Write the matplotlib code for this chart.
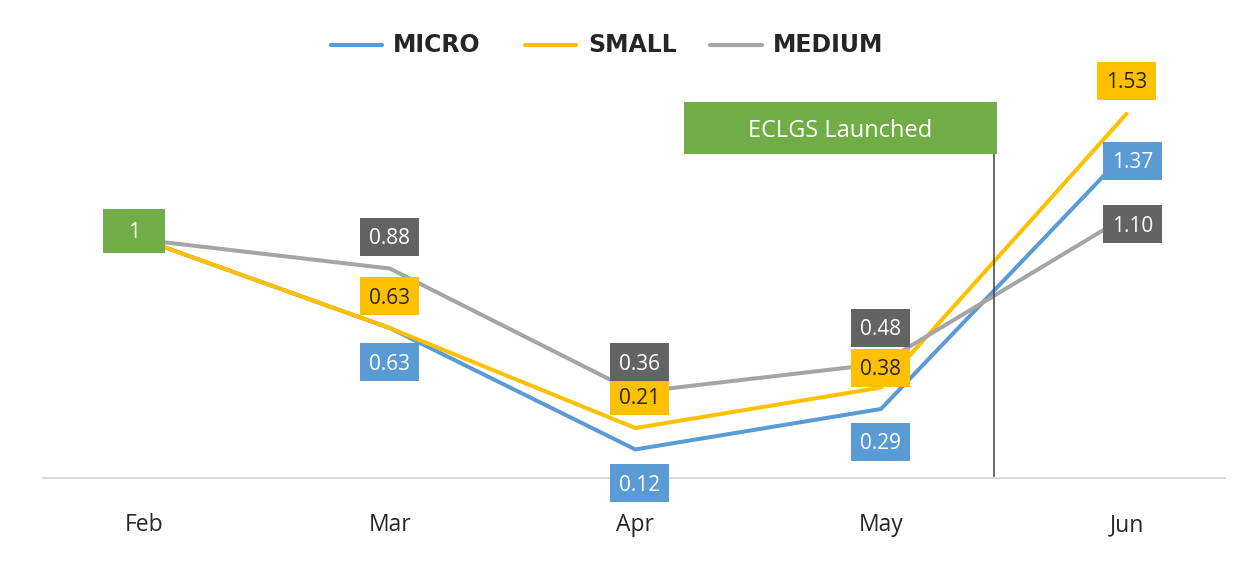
import matplotlib
matplotlib.use("Agg")
import matplotlib.pyplot as plt
from matplotlib.patches import Rectangle
from matplotlib.lines import Line2D

# --- DATA ---
months = ["Feb", "Mar", "Apr", "May", "Jun"]
micro = [1, 0.63, 0.12, 0.29, 1.37]
small = [1, 0.63, 0.21, 0.38, 1.53]
medium = [1, 0.88, 0.36, 0.48, 1.10]
event_label = "ECLGS Launched"
event_pos = 3.46   # between May and Jun

# --- STYLE ---
BLUE = "#5B9BD5"
YELLOW = "#FFC000"
GRAY = "#A5A5A5"
DARK = "#636363"
GREEN = "#70AD47"
TXT = "#262626"
LABEL_FONT = ["Open Sans", "DejaVu Sans"]

W, H = 1255, 568
XLIM = (-0.587, 4.523)
YLIM = (-0.378, 2.008)
PXX = W / (XLIM[1] - XLIM[0])   # pixels per category
PXY = H / (YLIM[1] - YLIM[0])   # pixels per unit

# label offsets in pixels (dx, dy), dy positive = down
series = [
    ("MICRO", micro, BLUE, "white", BLUE,
     [None, (0, 34), (4, 34), (0, 33), (6, 9)]),
    ("SMALL", small, YELLOW, TXT, YELLOW,
     [None, (0, -32), (4, -32), (0, -20), (0, -33)]),
    ("MEDIUM", medium, GRAY, "white", DARK,
     [None, (0, -32), (4, -30), (0, -36), (6, 8)]),
]

fig = plt.figure(figsize=(W / 100, H / 100), dpi=100)
ax = fig.add_axes([0, 0, 1, 1])
ax.set_xlim(*XLIM)
ax.set_ylim(*YLIM)
ax.axis("off")

x = list(range(len(months)))

# baseline
ax.plot([(43 / W) * (XLIM[1] - XLIM[0]) + XLIM[0], (1225 / W) * (XLIM[1] - XLIM[0]) + XLIM[0]],
        [0, 0], color="#D9D9D9", lw=1.4, zorder=1)

for name, vals, col, tcol, bcol, offs in series:
    ax.plot(x, vals, color=col, lw=2.9, solid_capstyle="round", solid_joinstyle="miter", zorder=3)

# event marker
ax.plot([event_pos, event_pos], [0.01, 1.40], color="#404040", lw=1.1, zorder=5)
bw, bh = 313 / PXX, 52 / PXY
ax.add_patch(Rectangle((event_pos + 3 / PXX - bw, 1.361), bw, bh, color=GREEN, lw=0, zorder=6))
ax.text(event_pos + 3 / PXX - bw / 2, 1.361 + bh / 2 - 8.5 / PXY, event_label, color="white",
        ha="center", va="baseline", fontsize=17, family=LABEL_FONT, zorder=7)

# data labels
lw_box, lh_box = 59 / PXX, 38 / PXY
for name, vals, col, tcol, bcol, offs in series:
    for i, v in enumerate(vals):
        if offs[i] is None:
            continue
        cx = i + offs[i][0] / PXX
        cy = v - offs[i][1] / PXY
        ax.add_patch(Rectangle((cx - lw_box / 2, cy - lh_box / 2), lw_box, lh_box,
                               color=bcol, lw=0, zorder=8))
        ax.text(cx, cy - 7.5 / PXY, f"{v:.2f}", color=tcol, ha="center", va="baseline",
                fontsize=15, family=LABEL_FONT, zorder=9)

# shared start label
fx, fy = -10 / PXX, micro[0] + 9 / PXY
fw, fh = 62 / PXX, 44 / PXY
ax.add_patch(Rectangle((fx - fw / 2, fy - fh / 2), fw, fh, color=GREEN, lw=0, zorder=8))
ax.text(fx, fy - 7.5 / PXY, f"{micro[0]:g}", color="white", ha="center", va="baseline",
        fontsize=15, family=LABEL_FONT, zorder=9)

# category labels
for i, m in enumerate(months):
    ax.text(i, -53 / PXY, m, color=TXT, ha="center", va="baseline",
            fontsize=16.5, family=LABEL_FONT)

# legend drawn by hand
leg_y = 1 - 45 / H
for (name, vals, col, tcol, bcol, offs), (x0, x1, tx) in zip(
        series, [(331, 382, 393), (525, 576, 588), (710, 762, 773)]):
    fig.add_artist(Line2D([x0 / W, x1 / W], [leg_y, leg_y], color=col, lw=3,
                          solid_capstyle="round"))
    fig.text(tx / W, leg_y, name, color=TXT, ha="left", va="center",
             fontsize=17, fontweight="bold", family="DejaVu Sans")

fig.savefig("out.png", dpi=100, facecolor="white")
